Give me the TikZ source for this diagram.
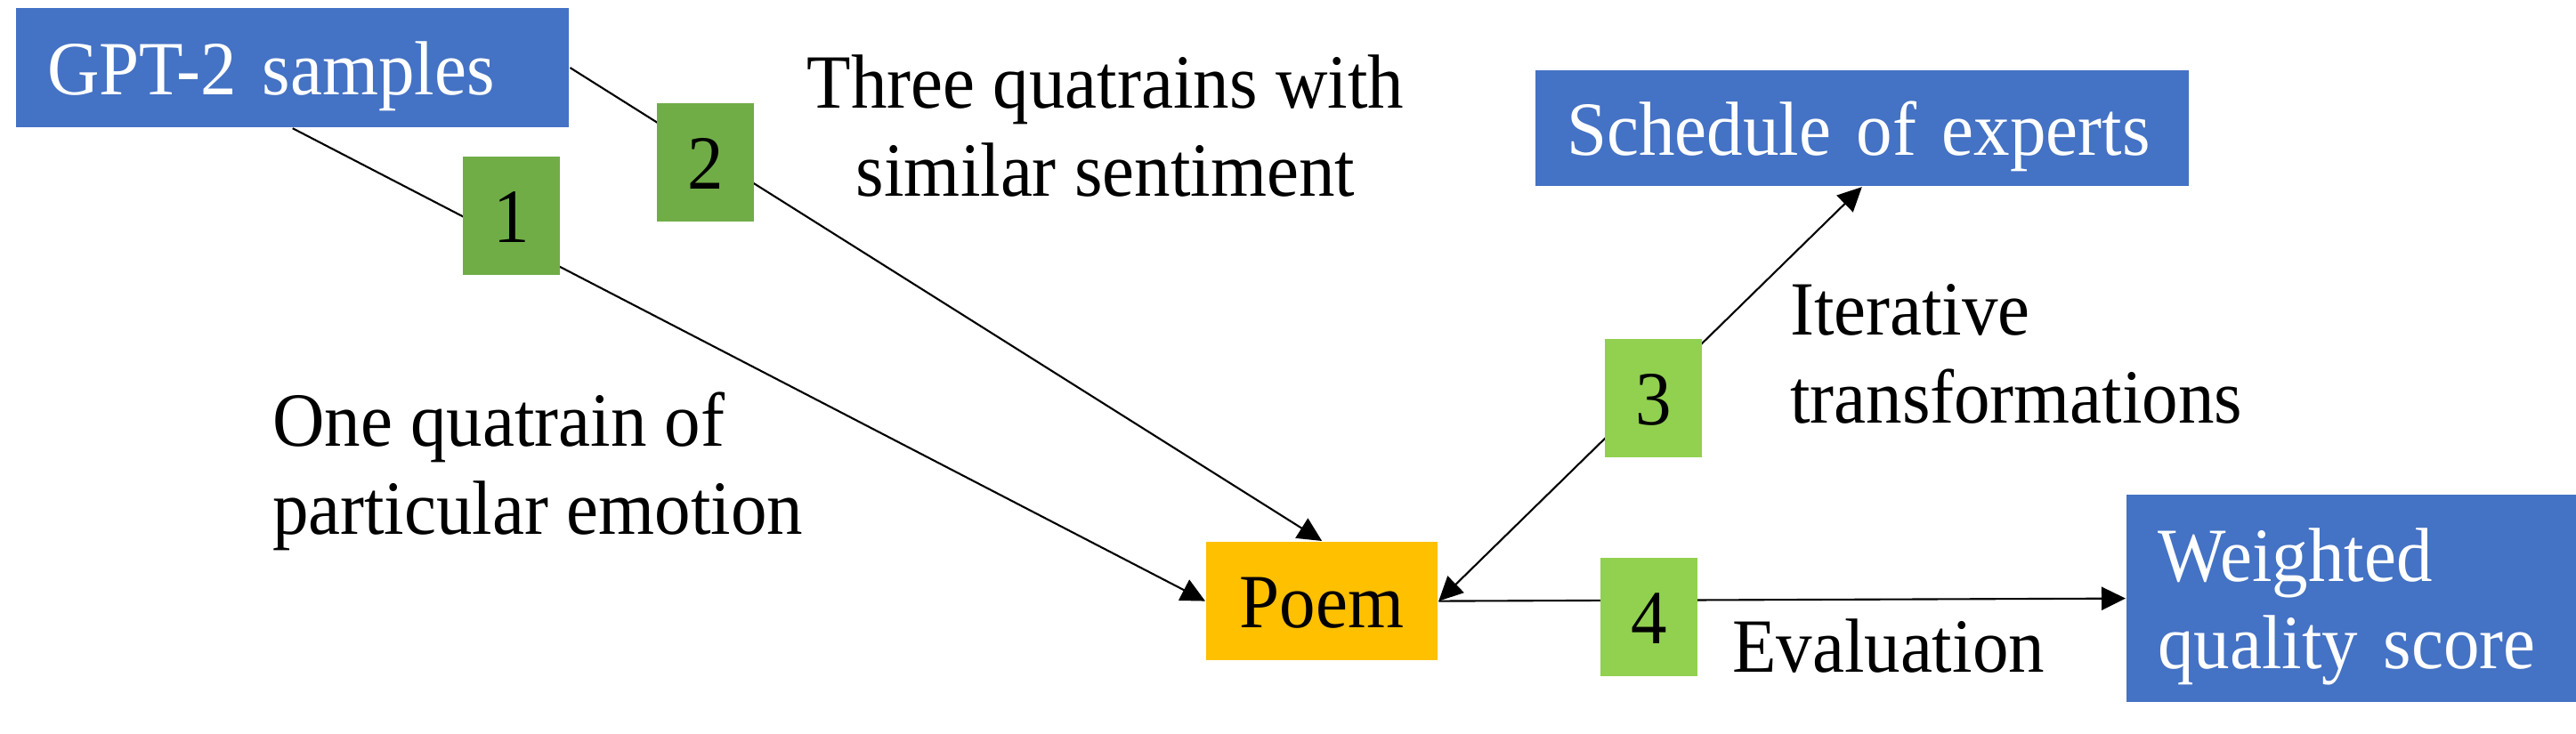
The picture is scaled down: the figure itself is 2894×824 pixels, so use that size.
\documentclass[tikz,border=0pt]{standalone}
\usepackage{fontspec}
\setmainfont{Liberation Serif}[FakeStretch=0.94]
\usetikzlibrary{calc,arrows.meta,positioning}

\definecolor{boxblue}{HTML}{4472C4}
\definecolor{darkgreen}{HTML}{70AD47}
\definecolor{lightgreen}{HTML}{92D050}
\definecolor{poemgold}{HTML}{FFC000}

\begin{document}
\begin{tikzpicture}[x=0.01cm, y=-0.01cm, line width=0.6pt,
        >={Triangle[length=0.27cm,width=0.26cm]},
        every node/.style={font=\fontsize{24.5}{27.9}\selectfont, inner sep=0pt},
        bluebox/.style={fill=boxblue, text=white, anchor=north west, align=left, inner xsep=0.35cm, text height=0.8cm, text depth=0.2cm},
        numbox/.style={anchor=north west, minimum width=1.09cm, minimum height=1.33cm, text height=0.8cm, text depth=0.2cm},
        lbl/.style={anchor=base west, align=left}]
        \useasboundingbox (0,0) rectangle (2894,824);

        \node[bluebox, text width=5.51cm, minimum height=1.34cm] (gpt) at (17,8) {GPT-2 samples};
        \node[bluebox, text width=6.63cm, minimum height=1.30cm] (sched) at (1724,78) {Schedule of experts};
        \node[bluebox, text width=4.36cm, minimum height=2.33cm, text depth=1.18cm] (weighted) at (2388,555) {Weighted\\quality score};
        \node[bluebox, fill=poemgold, text=black, align=center, text width=1.90cm, minimum height=1.33cm] (poem) at (1354,608) {Poem};

        \draw[->] (gpt.south) -- (poem.west);
        \draw[->] (gpt.east) -- (poem.north);
        \draw[<->] (poem.east) -- (sched.south);
        \draw[->] (poem.east) -- (weighted.west);

        % step numbers sit on top of the lines
        \node[numbox, fill=darkgreen] (n1) at (519,175) {1};
        \node[numbox, fill=darkgreen] (n2) at (737,115) {2};
        \node[numbox, fill=lightgreen] (n3) at (1802,380) {3};
        \node[numbox, fill=lightgreen] (n4) at (1797,626) {4};

        % base of a two-line label is its last line
        \node[anchor=base, align=center] (three) at (1242,220) {Three quatrains with\\similar sentiment};
        \node[lbl] (one) at (305,600) {One quatrain of\\particular emotion};
        \node[lbl] (iter) at (2010,475) {Iterative\\transformations};
        \node[lbl] (eval) at (1945,755) {Evaluation};
    \end{tikzpicture}
\end{document}
